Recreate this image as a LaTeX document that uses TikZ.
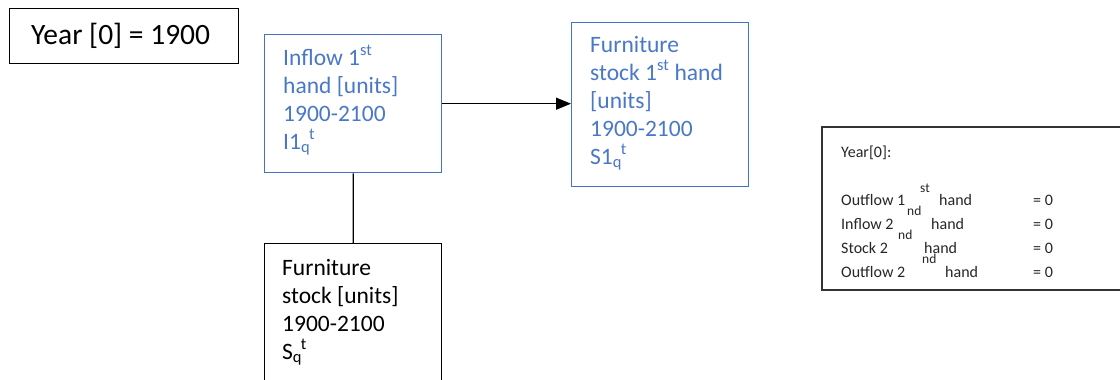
\documentclass[tikz,border=0pt]{standalone}
\usepackage{fontspec}
\setmainfont{Carlito}
\usetikzlibrary{arrows.meta}
\definecolor{officeblue}{HTML}{4472C4}
\definecolor{bluetext}{HTML}{4A78C8}
\begin{document}
\begin{tikzpicture}[x=1pt,y=-1pt,
  bbox/.style={draw=black, line width=1.3pt, inner sep=0pt, anchor=north west},
  bluebox/.style={draw=officeblue, line width=1.4pt, inner sep=0pt, anchor=north west},
  bigtxt/.style={font=\fontsize{23.5}{28}\selectfont, align=left, inner sep=0pt, anchor=base west},
  bluetxt/.style={bigtxt, text=bluetext},
  smalltxt/.style={font=\fontsize{16}{24}\selectfont, text=black!85, inner sep=0pt, anchor=base west},
  suptxt/.style={font=\fontsize{13.5}{13.5}\selectfont, text=black!85, inner sep=0pt, anchor=base west},
  conn/.style={draw=black, line width=1.3pt}]
\useasboundingbox (0,0) rectangle (1120,380);
\clip (0,0) rectangle (1120,380);
\fill[white] (0,0) rectangle (1120,380);

% title box
\node[bbox, minimum width=229pt, minimum height=55pt] (yearbox) at (9,8) {};
\node[font=\fontsize{29.5}{32}\selectfont, inner sep=0pt, anchor=base west] (yeartxt) at (31,45) {Year [0] = 1900};

% inflow 1st hand (anchor base = last line)
\node[bluebox, minimum width=177pt, minimum height=138pt] (inflow) at (264,34) {};
\node[bluetxt] (inflowtxt) at (283,149) {Inflow 1\textsuperscript{st}\\hand [units]\\1900-2100\\I1\textsubscript{q}\kern-0.05em\textsuperscript{t}};

% furniture stock 1st hand
\node[bluebox, minimum width=177pt, minimum height=164pt] (stockone) at (571,22) {};
\node[bluetxt] (stockonetxt) at (590,164) {Furniture\\stock 1\textsuperscript{st} hand\\\relax[units]\\1900-2100\\S1\textsubscript{q}\kern-0.05em\textsuperscript{t}};

% furniture stock
\node[bbox, minimum width=177pt, minimum height=150pt] (stock) at (264,243) {};
\node[bigtxt] (stocktxt) at (282,359) {Furniture\\stock [units]\\1900-2100\\S\textsubscript{q}\kern-0.05em\textsuperscript{t}};

% connectors
\draw[conn, -{Triangle[length=15pt,width=12pt]}] (inflow.east) -- (inflow.east -| stockone.west);
\draw[conn] (inflow.south) -- (stock.north);

% right info box
\node[draw=black!80, line width=2pt, inner sep=0pt, anchor=north west, minimum width=320pt, minimum height=163pt] (infobox) at (821,126) {};
\node[smalltxt] (iy) at (841,157) {Year[0]:};
\node[smalltxt] (l1a) at (841,205) {Outflow 1};
\node[suptxt] (l1s) at (920,192) {st};
\node[smalltxt] (l1b) at (939,205) {hand};
\node[smalltxt] (l2a) at (841,229) {Inflow 2};
\node[suptxt] (l2s) at (907,215) {nd};
\node[smalltxt] (l2b) at (931,229) {hand};
\node[smalltxt] (l3a) at (841,253) {Stock 2};
\node[suptxt] (l3s) at (898,239) {nd};
\node[smalltxt] (l3b) at (924,253) {hand};
\node[smalltxt] (l4a) at (841,277) {Outflow 2};
\node[suptxt] (l4s) at (922,263) {nd};
\node[smalltxt] (l4b) at (945,277) {hand};
\node[smalltxt] (e1) at (1033,205) {= 0};
\node[smalltxt] (e2) at (1033,229) {= 0};
\node[smalltxt] (e3) at (1033,253) {= 0};
\node[smalltxt] (e4) at (1033,277) {= 0};
\end{tikzpicture}
\end{document}
